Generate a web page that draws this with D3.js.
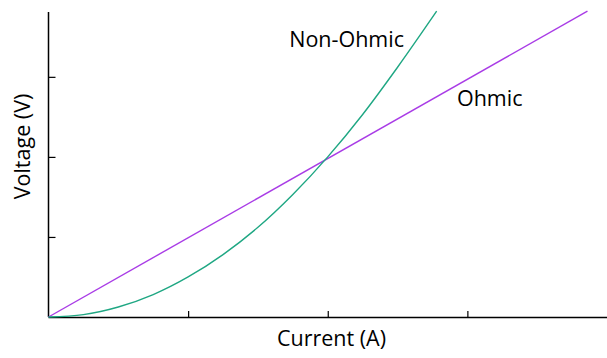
<!DOCTYPE html>
<html>
<head>
<meta charset="utf-8">
<script src="https://cdn.jsdelivr.net/npm/d3@7"></script>
<style>
  html, body { margin: 0; padding: 0; background: #fff; }
  svg { display: block; }
  text { font-family: "Open Sans", "Noto Sans", sans-serif; fill: #000; }
</style>
</head>
<body>
<svg id="chart" width="607" height="358"></svg>
<script>
// Data
const xTicks = [1, 2, 3];
const yTicks = [1, 2, 3];
const ohmicCurrent = [0, 3.86];
const ohmicVoltage = [0, 3.82];
const nonOhmicCurrent = [0, 0.25, 0.5, 0.75, 1.0, 1.25, 1.5, 1.75, 2.0, 2.25, 2.5, 2.78];
const nonOhmicVoltage = [0, 0.03, 0.125, 0.28, 0.5, 0.78, 1.12, 1.53, 2.0, 2.53, 3.12, 3.82];
const labels = [
  { text: "Non-Ohmic", x: 2.135, y: 3.37 },
  { text: "Ohmic", x: 3.16, y: 2.63 }
];

const svg = d3.select("#chart");
const x = d3.scaleLinear().domain([0, 4]).range([48.5, 607]);
const y = d3.scaleLinear().domain([0, 3.81]).range([317, 12]);

// Axes
const xAxis = d3.axisBottom(x).tickValues(xTicks).tickSize(-6).tickFormat("");
const yAxis = d3.axisLeft(y).tickValues(yTicks).tickSize(-7).tickFormat("");

const gx = svg.append("g").attr("transform", `translate(0,${y(0)})`).call(xAxis);
const gy = svg.append("g").attr("transform", `translate(${x(0)},0)`).call(yAxis);
[gx, gy].forEach(g => {
  g.select(".domain").attr("stroke", "#000").attr("stroke-width", 1.5);
  g.selectAll(".tick line").attr("stroke", "#000").attr("stroke-width", 1.2);
});
gx.select(".domain").attr("d", `M${x(0)},0.5H607`);
gy.select(".domain").attr("d", `M0,${y(3.81)}V${y(0)}`);

// Lines
const line = d3.line().x(d => x(d[0])).y(d => y(d[1]));
const lineCurve = d3.line().x(d => x(d[0])).y(d => y(d[1])).curve(d3.curveMonotoneX);

svg.append("path")
  .datum(ohmicCurrent.map((c, i) => [c, ohmicVoltage[i]]))
  .attr("d", line)
  .attr("fill", "none")
  .attr("stroke", "#a93ce6")
  .attr("stroke-width", 1.4);

svg.append("path")
  .datum(nonOhmicCurrent.map((c, i) => [c, nonOhmicVoltage[i]]))
  .attr("d", lineCurve)
  .attr("fill", "none")
  .attr("stroke", "#1fa783")
  .attr("stroke-width", 1.4);

// Labels
svg.selectAll(".lbl").data(labels).enter().append("text")
  .attr("class", "lbl")
  .attr("x", d => x(d.x))
  .attr("y", d => y(d.y))
  .attr("text-anchor", "middle")
  .attr("font-size", 21.5)
  .text(d => d.text);

svg.append("text")
  .attr("x", 331.5)
  .attr("y", 346)
  .attr("text-anchor", "middle")
  .attr("font-size", 21.5)
  .text("Current (A)");

svg.append("text")
  .attr("transform", "translate(30,146.5) rotate(-90)")
  .attr("text-anchor", "middle")
  .attr("font-size", 21.5)
  .text("Voltage (V)");
</script>
</body>
</html>
